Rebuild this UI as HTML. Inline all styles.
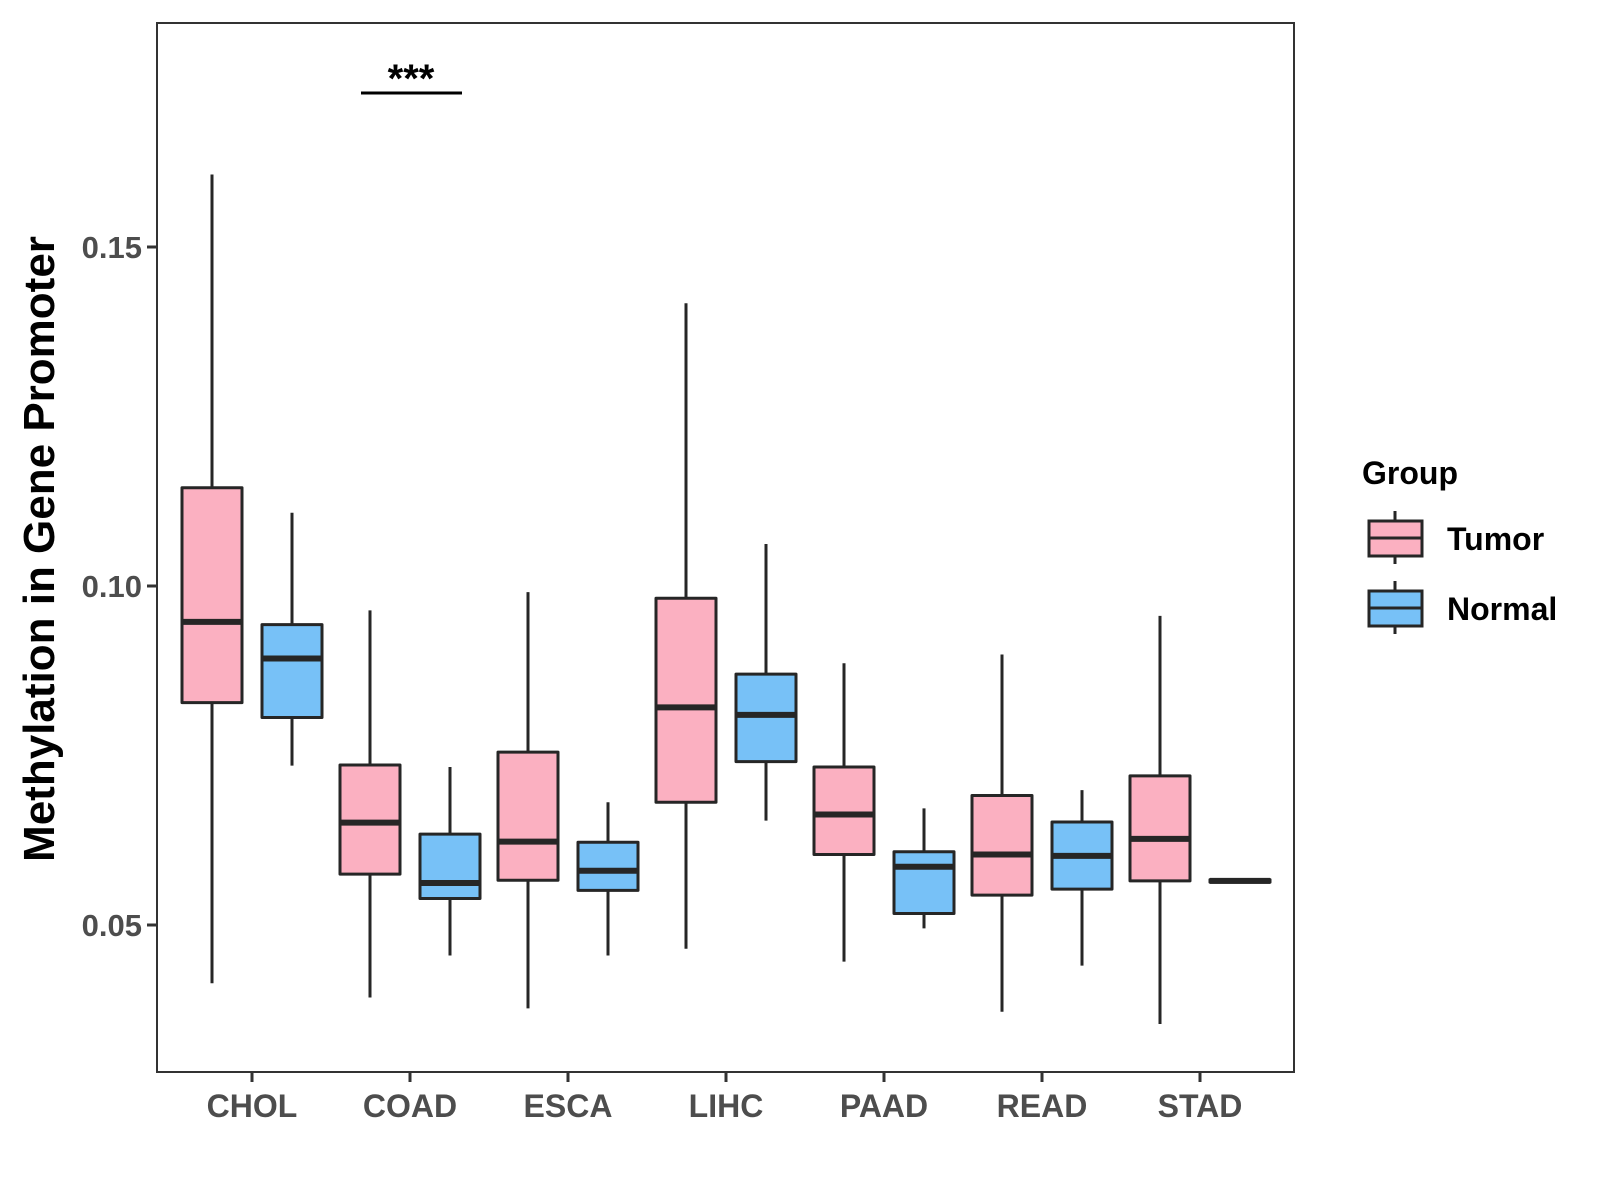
<!DOCTYPE html>
<html><head><meta charset="utf-8"><style>
body{margin:0;background:#fff}
svg{display:block;font-family:"Liberation Sans",Arial,sans-serif}
</style></head><body>
<svg id="chart" width="1600" height="1200" viewBox="0 0 1600 1200">
<rect x="157" y="23" width="1137" height="1049" fill="#fff" stroke="#333" stroke-width="2"/>
<g id="boxes"></g>
<g id="axes"></g>
<line x1="361" y1="93" x2="462" y2="93" stroke="#000" stroke-width="3"/>
<text x="411" y="92" text-anchor="middle" font-size="40" font-weight="bold">***</text>
<text transform="translate(54,549) rotate(-90)" text-anchor="middle" font-size="44" font-weight="bold">Methylation in Gene Promoter</text>
<g>
<text x="1362" y="484" font-size="32" font-weight="bold">Group</text>
<g>
<line x1="1395" y1="511" x2="1395" y2="564" stroke="#262626" stroke-width="3"/>
<rect x="1369" y="521" width="53" height="35" fill="#fbb0c1" stroke="#262626" stroke-width="3"/>
<line x1="1369" y1="538" x2="1422" y2="538" stroke="#262626" stroke-width="3"/>
<text x="1447" y="550" font-size="32" font-weight="bold">Tumor</text></g>
<g>
<line x1="1395" y1="581" x2="1395" y2="634" stroke="#262626" stroke-width="3"/>
<rect x="1369" y="591" width="53" height="35" fill="#77c1f7" stroke="#262626" stroke-width="3"/>
<line x1="1369" y1="608" x2="1422" y2="608" stroke="#262626" stroke-width="3"/>
<text x="1447" y="620" font-size="32" font-weight="bold">Normal</text></g>
</g>
</svg>
<script>
const categories=["CHOL","COAD","ESCA","LIHC","PAAD","READ","STAD"];
// [lower whisker, q1, median, q3, upper whisker]
const tumorStats=[[0.0414,0.0828,0.0947,0.1145,0.1607],[0.0393,0.0575,0.0651,0.0736,0.0964],[0.0377,0.0566,0.0623,0.0755,0.0991],[0.0465,0.0681,0.0821,0.0982,0.1417],[0.0446,0.0604,0.0663,0.0733,0.0886],[0.0372,0.0544,0.0604,0.0691,0.0899],[0.0354,0.0565,0.0627,0.0720,0.0956]];
const normalStats=[[0.0735,0.0806,0.0893,0.0943,0.1108],[0.0455,0.0539,0.0562,0.0634,0.0733],[0.0455,0.0551,0.0580,0.0622,0.0681],[0.0654,0.0741,0.0810,0.0870,0.1062],[0.0495,0.0517,0.0586,0.0608,0.0672],[0.0440,0.0553,0.0602,0.0652,0.0699],[0.0563,0.0563,0.0565,0.0567,0.0567]];
const yTicks=[0.05,0.10,0.15];
const yTickLabels=["0.05","0.10","0.15"];
const NS="http://www.w3.org/2000/svg";
function y(v){return 247+(0.15-v)*6780;}
function x(i){return 252+i*158;}
function mk(tag,attrs,parent){const e=document.createElementNS(NS,tag);for(const k in attrs)e.setAttribute(k,attrs[k]);parent.appendChild(e);return e;}
const boxes=document.getElementById('boxes'),axes=document.getElementById('axes');
function drawBox(s,cx,fill,name){
  const g=mk('g',{},boxes);
  
  
  mk('line',{x1:cx,x2:cx,y1:y(s[4]),y2:y(s[0]),stroke:'#262626','stroke-width':3},g);
  mk('rect',{x:cx-30,y:y(s[3]),width:60,height:Math.max(y(s[1])-y(s[3]),1),fill:fill,stroke:'#262626','stroke-width':3,'stroke-linejoin':'round'},g);
  mk('line',{x1:cx-30,x2:cx+30,y1:y(s[2]),y2:y(s[2]),stroke:'#262626','stroke-width':6},g);
}
categories.forEach((c,i)=>{
  drawBox(tumorStats[i],x(i)-40,'#fbb0c1','box-tumor-'+c.toLowerCase());
  drawBox(normalStats[i],x(i)+40,'#77c1f7','box-normal-'+c.toLowerCase());
  mk('line',{x1:x(i),x2:x(i),y1:1072,y2:1082,stroke:'#333','stroke-width':3},axes);
  const t=mk('text',{x:x(i),y:1117,'text-anchor':'middle','font-size':32,'font-weight':'bold',fill:'#4d4d4d'},axes);
  t.textContent=c;
  
  
});
yTicks.forEach((v,i)=>{
  mk('line',{x1:147,x2:157,y1:y(v),y2:y(v),stroke:'#333','stroke-width':3},axes);
  const t=mk('text',{x:142,y:y(v)+11,'text-anchor':'end','font-size':31,'font-weight':'bold',fill:'#4d4d4d'},axes);
  t.textContent=yTickLabels[i];
  
  
});
</script>
</body></html>
